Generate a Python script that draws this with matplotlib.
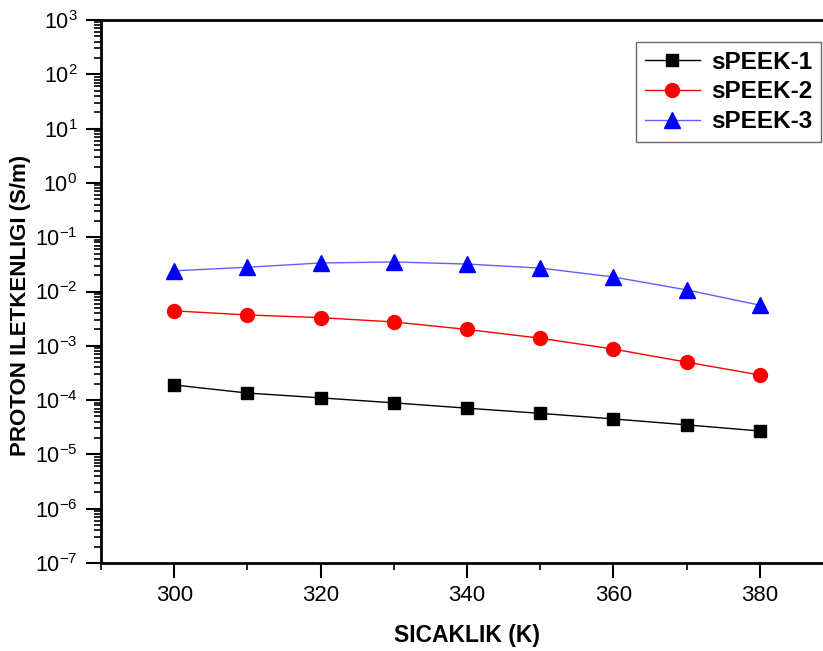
import numpy as np
import matplotlib
matplotlib.use("Agg")
import matplotlib.pyplot as plt
from matplotlib.ticker import LogLocator, MultipleLocator, FuncFormatter

plt.rcParams['font.family'] = ['Liberation Sans', 'DejaVu Sans']
plt.rcParams['mathtext.fontset'] = 'custom'
plt.rcParams['mathtext.rm'] = 'Liberation Sans'
plt.rcParams['mathtext.it'] = 'Liberation Sans:italic'
plt.rcParams['mathtext.bf'] = 'Liberation Sans:bold'

# temperature (K)
T = [300, 310, 320, 330, 340, 350, 360, 370, 380]

# proton conductivity (S/m)
speek1 = [1.9e-4, 1.35e-4, 1.1e-4, 8.9e-5, 7.1e-5, 5.7e-5, 4.5e-5, 3.5e-5, 2.7e-5]
speek2 = [4.4e-3, 3.7e-3, 3.3e-3, 2.75e-3, 2.0e-3, 1.38e-3, 8.7e-4, 5.0e-4, 2.9e-4]
speek3 = [2.4e-2, 2.8e-2, 3.35e-2, 3.5e-2, 3.2e-2, 2.7e-2, 1.85e-2, 1.07e-2, 5.6e-3]

labels = ['sPEEK-1', 'sPEEK-2', 'sPEEK-3']

fig = plt.figure(figsize=(8.23, 6.51), dpi=100)
ax = fig.add_axes([101/823, 1-563/651, (833-101)/823, (563-20)/651])

ax.plot(T, speek1, c='k', lw=1, marker='s', ms=8.6, label=labels[0])
ax.plot(T, speek2, c='#ff0000', lw=1, marker='o', ms=10, label=labels[1])
ax.plot(T, speek3, c='#6060ff', lw=1, marker='^', ms=11,
        mfc='#0000ff', mec='#0000ff', label=labels[2])

ax.set_yscale('log')
ax.set_xlim(290, 390)
ax.set_ylim(1e-7, 1e3)
ax.xaxis.set_major_locator(MultipleLocator(20))
ax.xaxis.set_minor_locator(MultipleLocator(10))
ax.yaxis.set_major_locator(LogLocator(base=10, numticks=20))
ax.yaxis.set_minor_locator(LogLocator(base=10, subs=np.arange(2, 10), numticks=20))
ax.yaxis.set_major_formatter(FuncFormatter(lambda v, p: r'$\mathregular{10^{%d}}$' % round(np.log10(v))))

ax.tick_params(which='major', direction='out', length=11, width=1.5)
ax.tick_params(axis='x', which='major', labelsize=16, pad=5)
ax.tick_params(axis='y', which='major', labelsize=15.5, pad=6)
ax.tick_params(which='minor', direction='out', length=5, width=1.2)
ax.tick_params(top=False, right=False)
for s in ax.spines.values():
    s.set_linewidth(2)

ax.set_xlabel('SICAKLIK (K)', fontsize=16.5, fontweight='bold', labelpad=13)
ax.set_ylabel('PROTON ILETKENLIGI (S/m)', fontsize=16, fontweight='bold')
ax.yaxis.set_label_coords(-0.095, 0.475)

leg = ax.legend(loc='upper left', bbox_to_anchor=(636/823, 1-42/651),
                bbox_transform=fig.transFigure, borderaxespad=0,
                prop={'size': 17.5, 'weight': 'bold'}, fancybox=False,
                edgecolor='#444444', handlelength=2.3, labelspacing=0.28,
                borderpad=0.35, handletextpad=0.45)
leg.get_frame().set_linewidth(1)

fig.savefig('out.png', dpi=100)
